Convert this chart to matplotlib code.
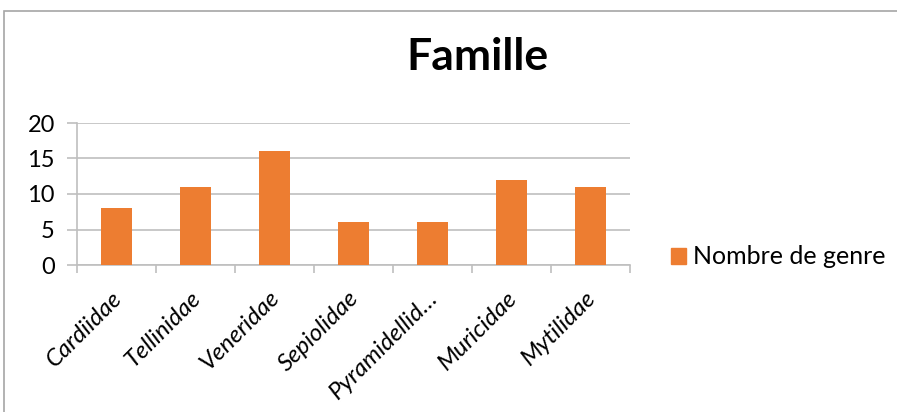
import matplotlib.pyplot as plt
from matplotlib.patches import Rectangle, Patch

familles = ["Cardiidae", "Tellinidae", "Veneridae", "Sepiolidae",
            "Pyramidellid\u2026", "Muricidae", "Mytilidae"]
nb_genres = [8, 11, 16, 6, 6, 12, 11]
y_ticks = [0, 5, 10, 15, 20]

orange = '#ED7D31'
grid_col = '#BFBFBF'
plt.rcParams['font.family'] = ['Lato', 'DejaVu Sans']

fig = plt.figure(figsize=(8.97, 4.12), dpi=100, facecolor='w')
ax = fig.add_axes([77/897, 1 - 265/412, 553/897, 142/412])

x = list(range(len(familles)))
ax.bar(x, nb_genres, width=0.4, color=orange, zorder=3)
ax.set_xlim(-0.5, len(familles) - 0.5)
ax.set_ylim(0, 20)
ax.set_yticks(y_ticks)
ax.set_yticklabels([str(v) for v in y_ticks], fontsize=17)
ax.yaxis.grid(True, color=grid_col, linewidth=1.2, zorder=0)

# category tick marks sit between bars
ax.set_xticks([i - 0.5 for i in range(len(familles) + 1)])
ax.set_xticklabels([])
ax.tick_params(axis='x', direction='out', length=6, color=grid_col, width=1.2)
ax.tick_params(axis='y', direction='out', length=7, color=grid_col, width=1.2, pad=9)

for i, lab in enumerate(familles):
    ax.annotate(lab, xy=(i, 0), xycoords=('data', 'axes fraction'),
                xytext=(-4, -16), textcoords='offset points',
                rotation=45, ha='right', va='top', rotation_mode='anchor',
                fontsize=17.5, fontstyle='italic')

for s in ['top', 'right']:
    ax.spines[s].set_visible(False)
ax.spines['left'].set_color(grid_col)
ax.spines['bottom'].set_color(grid_col)
ax.spines['left'].set_linewidth(1.2)
ax.spines['bottom'].set_linewidth(1.2)

fig.text(477/897, 1 - 57/412, "Famille", fontsize=32, fontweight='bold',
         ha='center', va='center')

fig.legend(handles=[Patch(color=orange, label="Nombre de genre")],
           loc='center left', bbox_to_anchor=(653/897, 1 - 257/412),
           frameon=False, fontsize=18, handlelength=0.6, handleheight=0.6,
           handletextpad=0.3, borderpad=0.2)

fig.add_artist(Rectangle((4/897, -0.1), 1.2, 1.073, transform=fig.transFigure,
                         fill=False, edgecolor='#A6A6A6', linewidth=1.2))

plt.savefig("out.png", dpi=100)
